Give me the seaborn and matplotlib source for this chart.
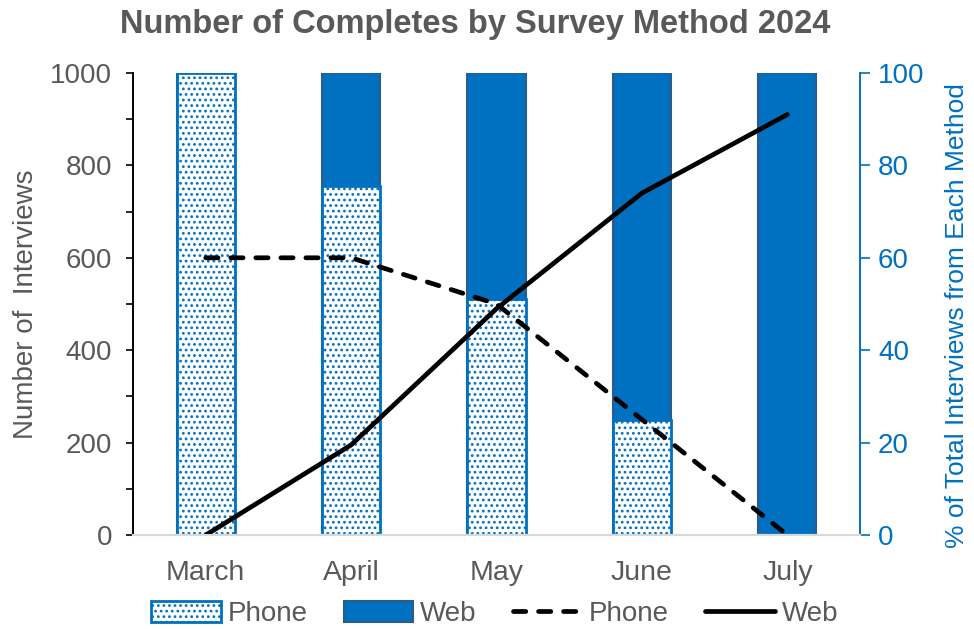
import numpy as np
import pandas as pd
import seaborn as sns
import matplotlib.pyplot as plt
from matplotlib.patches import Patch
from matplotlib.lines import Line2D
from matplotlib.ticker import MultipleLocator

# data
months = ["March", "April", "May", "June", "July"]
phone_pct = [100, 75.5, 51, 25, 0]        # % of interviews by phone (bars)
web_pct = [0, 24.5, 49, 75, 100]          # % of interviews by web (bars)
phone_n = [600, 600, 500, 250, 0]         # number of phone interviews (dashed line)
web_n = [0, 195, 490, 740, 910]           # number of web interviews (solid line)

sns.set_style("white")
plt.rcParams['font.family'] = ['Liberation Sans', 'DejaVu Sans']
plt.rcParams['hatch.linewidth'] = 1.2

grey = "#595959"
blue = "#0070C0"
dark_edge = "#2E5C8A"

df = pd.DataFrame({"month": months, "phone": phone_pct, "web": web_pct,
                   "phone_n": phone_n, "web_n": web_n})
df["total"] = df["phone"] + df["web"]
df["pos"] = np.arange(len(df))

fig = plt.figure(figsize=(9.74, 6.29), dpi=100)
ax = fig.add_axes([0.1366, 0.1494, 0.883 - 0.1366, 0.884 - 0.1494])
ax2 = ax.twinx()

# bars (percent) on ax, drawn underneath
sns.barplot(data=df, x="month", y="total", color=blue, width=0.4,
            edgecolor=dark_edge, linewidth=1.5, saturation=1, ax=ax)
sns.barplot(data=df, x="month", y="phone", color="white", width=0.4,
            edgecolor=blue, linewidth=2, hatch="...", saturation=1, ax=ax)

# lines (counts) on ax2, drawn on top
sns.lineplot(data=df, x="pos", y="phone_n", color="black", lw=3.4,
             sort=False, ax=ax2)
sns.lineplot(data=df, x="pos", y="web_n", color="black", lw=3.4,
             sort=False, ax=ax2)
ax2.lines[0].set_dashes([2.6, 2.7])
ax2.lines[0].set_dash_capstyle("round")
ax2.lines[1].set_solid_capstyle("round")

ax.set_xlim(-0.5, 4.5)
ax.set_ylim(0, 100)
ax2.set_ylim(0, 1000)

# percent axis on the right
ax.yaxis.tick_right()
ax.yaxis.set_label_position("right")
ax.set_yticks([0, 20, 40, 60, 80, 100])
ax.tick_params(axis="y", which="both", right=True, left=False, colors=blue,
               labelsize=20, length=7, width=1.2, direction="out", pad=6)
ax.set_ylabel("% of Total Interviews from Each Method", color=blue, fontsize=19, labelpad=15)
ax.yaxis.label.set_y(0.475)

# count axis on the left
ax2.yaxis.tick_left()
ax2.yaxis.set_label_position("left")
ax2.set_yticks(range(0, 1001, 200))
ax2.yaxis.set_minor_locator(MultipleLocator(100))
ax2.tick_params(axis="y", which="both", left=True, right=False, labelcolor=grey,
                color="black", labelsize=20, length=5, width=1.2, direction="out", pad=10)
ax2.set_ylabel("Number of  Interviews", color=grey, fontsize=20, labelpad=8)

ax.set_xlabel("")
ax.tick_params(axis="x", colors=grey, labelsize=20.5, length=0, pad=18)
ax2.set_xlabel("")
ax2.tick_params(axis="x", length=0)

for a in (ax, ax2):
    a.spines["top"].set_visible(False)
    a.spines["bottom"].set_color("#D9D9D9")
    a.spines["bottom"].set_linewidth(1.5)
    a.spines["left"].set_color("black")
    a.spines["left"].set_linewidth(1.2)
    a.spines["right"].set_color(blue)
    a.spines["right"].set_linewidth(1.2)

fig.suptitle("Number of Completes by Survey Method 2024", fontsize=23.5,
             fontweight="bold", color=grey, x=0.488, y=0.985)

handles = [
    Patch(facecolor="white", edgecolor=blue, hatch="...", linewidth=2, label="Phone"),
    Patch(facecolor=blue, edgecolor=dark_edge, linewidth=1.5, label="Web"),
    Line2D([], [], color="black", lw=3.4, dashes=[2.6, 2.7], dash_capstyle="round", label="Phone"),
    Line2D([], [], color="black", lw=3.4, solid_capstyle="round", label="Web"),
]
leg = fig.legend(handles=handles, loc="lower center", bbox_to_anchor=(0.508, -0.037), ncol=4,
                 frameon=False, fontsize=20, handlelength=2.5, handleheight=0.8,
                 columnspacing=1.3, handletextpad=0.25)
for t in leg.get_texts():
    t.set_color(grey)

fig.savefig("out.png", dpi=100)
